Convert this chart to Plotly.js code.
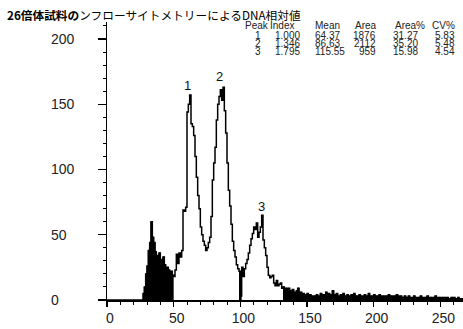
<!DOCTYPE html>
<html><head><meta charset="utf-8">
<script src="https://cdn.plot.ly/plotly-3.0.1.min.js"></script>
<style>html,body{margin:0;padding:0;background:#fff}#chart{width:463px;height:329px}</style>
</head><body><div id="chart"></div>
<script>
// DNA content histogram: counts per channel, channel 0..266
const counts = [
  0,0,0,0,0,0,0,0,0,0,
  0,0,0,0,0,0,0,0,0,0,
  0,0,0,0,0,0,0,5,10,20,
  26,38,44,60,48,44,37,33,34,36,
  31,28,33,27,24,25,23,21,22,19,
  18,23,35,28,36,33,38,69,68,71,
  144,150,157,135,133,126,110,94,80,70,
  56,50,45,42,38,40,44,48,64,92,
  105,117,138,150,156,161,153,163,145,128,
  105,84,72,58,45,38,33,27,24,22,
  3,25,18,24,28,31,36,42,47,51,
  56,54,59,48,52,56,65,46,40,34,
  25,19,17,18,19,13,11,15,11,12,
  13,9,10,8,9,8,9,7,6,8,
  6,5,7,9,5,6,4,5,3,4,
  5,3,4,3,2,3,2,4,3,2,
  5,3,4,2,6,3,5,4,2,7,
  4,3,5,2,3,4,2,5,3,2,
  4,3,2,4,3,5,2,3,2,4,
  3,2,3,4,2,3,5,2,3,2,
  4,2,3,2,4,3,2,3,2,3,
  2,4,2,3,2,3,2,4,3,2,
  3,2,1,3,2,2,3,2,1,2,
  3,2,1,2,2,3,2,1,2,2,
  3,1,2,2,1,2,3,1,2,2,
  1,2,1,2,1,2,1,1,2,1,
  2,1,1,2,1,1,1
];
const channels = counts.map((_, i) => i);
// gated (filled) channel ranges [start, end)
const gateStart = [27, 99, 132];
const gateEnd = [50, 101, 267];
// axis ticks
const yTickVals = [0, 50, 100, 150, 200];
const yTickText = ['0', '50', '100', '150', '200'];
const xTickVals = [0, 50, 100, 150, 200, 250];
const xTickText = ['0', '50', '100', '150', '200', '250'];
// peak markers
const peakLabels = ['1', '2', '3'];
const peakLabelX = [60, 84, 115.5];
const peakLabelY = [164, 171, 72];
// statistics table
const tableHeader = ['Peak', 'Index', 'Mean', 'Area', 'Area%', 'CV%'];
const peakNo = ['1', '2', '3'];
const peakIndex = ['1.000', '1.346', '1.795'];
const peakMean = ['64.37', '86.63', '115.55'];
const peakArea = ['1876', '2112', '959'];
const peakAreaPct = ['31.27', '35.20', '15.98'];
const peakCV = ['5.83', '5.48', '4.54'];
const titleBold = '26倍体試料の';
const titleRest = 'ンフローサイトメトリーによるDNA相対値';

const L = 107, T = 22, W = 356, H = 278;
const px = x => (x - L) / W;
const py = y => (T + H - y) / H;

function stepXY(a, b) {
  const xs = channels.slice(a, b).concat([b]);
  const ys = counts.slice(a, b).concat([counts[b - 1]]);
  return [xs, ys];
}

const traces = [];
gateStart.forEach((s, i) => {
  const [xs, ys] = stepXY(s, gateEnd[i]);
  traces.push({x: xs, y: ys, type: 'scatter', mode: 'lines', line: {shape: 'hv', color: '#000', width: 1},
    fill: 'tozeroy', fillcolor: '#000', hoverinfo: 'skip', showlegend: false});
});
const [ax, ay] = stepXY(0, counts.length);
traces.push({x: ax, y: ay, type: 'scatter', mode: 'lines', line: {shape: 'hv', color: '#000', width: 1.5}, showlegend: false});

const tf = {family: 'Liberation Sans, Arial, sans-serif', size: 10, color: '#222'};
const axisFont = {family: 'Liberation Sans, Arial, sans-serif', size: 14, color: '#222'};
const ann = [];
// y tick labels, left-aligned as in the reference
yTickVals.forEach((v, i) => ann.push({x: px(49), xref: 'paper', y: v, yref: 'y', text: yTickText[i], showarrow: false,
  xanchor: 'left', yanchor: 'middle', font: axisFont}));
peakLabels.forEach((t, i) => ann.push({x: peakLabelX[i], y: peakLabelY[i], xref: 'x', yref: 'y', text: t, showarrow: false,
  font: {family: 'Liberation Sans, Arial, sans-serif', size: 13, color: '#111'}}));
// header
const headX = [243, 267.5, 313, 353, 393, 430];
tableHeader.forEach((t, i) => ann.push({x: px(headX[i]), y: py(25), xref: 'paper', yref: 'paper', text: t, showarrow: false,
  xanchor: 'left', yanchor: 'middle', font: tf}));
const rowY = [35.5, 43.5, 51.5];
const cols = [[peakNo, 263, 'right'], [peakIndex, 302, 'right'], [peakMean, 313, 'left'], [peakArea, 378, 'right'], [peakAreaPct, 420, 'right'], [peakCV, 457, 'right']];
cols.forEach(([arr, x, anc]) => arr.forEach((t, r) => ann.push({x: px(x), y: py(rowY[r]), xref: 'paper', yref: 'paper', text: t,
  showarrow: false, xanchor: anc, yanchor: 'middle', font: tf})));
// title
ann.push({x: px(5), y: py(15), xref: 'paper', yref: 'paper', text: '<b>' + titleBold + '</b>' + titleRest, showarrow: false,
  xanchor: 'left', yanchor: 'middle', font: {family: 'Noto Sans CJK JP, sans-serif', size: 11.7, color: '#000'}});

const layout = {
  width: 463, height: 329,
  margin: {l: L, r: 0, t: T, b: 329 - T - H},
  paper_bgcolor: '#fff', plot_bgcolor: '#fff',
  showlegend: false,
  xaxis: {range: [0, 267], tickvals: xTickVals, ticktext: xTickText, ticks: 'outside', ticklen: 5, tickwidth: 1.3, tickcolor: '#000',
    showline: true, linecolor: '#000', linewidth: 1.5, showgrid: false, zeroline: false, tickfont: axisFont,
    ticklabelshift: 3,
    minor: {dtick: 10, tick0: 0, ticks: 'outside', ticklen: 3, tickcolor: '#000', tickwidth: 1}},
  yaxis: {range: [0, 213], tickvals: yTickVals, ticks: 'outside', ticklen: 8, tickwidth: 1.3, tickcolor: '#000',
    showline: true, linecolor: '#000', linewidth: 1.5, showgrid: false, zeroline: false, showticklabels: false,
    minor: {dtick: 10, tick0: 0, ticks: 'outside', ticklen: 3, tickcolor: '#000', tickwidth: 1}},
  annotations: ann
};
Plotly.newPlot('chart', traces, layout, {displayModeBar: false, staticPlot: true});
</script></body></html>
